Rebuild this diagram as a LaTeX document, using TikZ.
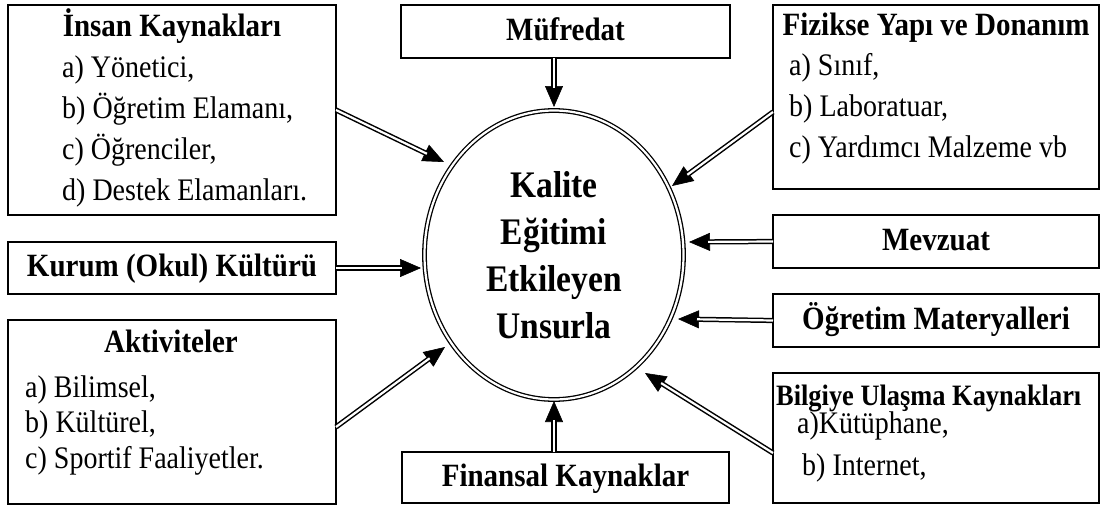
\documentclass[tikz,border=0pt]{standalone}
\usepackage{fontspec}
\usepackage{graphicx}
\setmainfont{Liberation Serif}
\usetikzlibrary{arrows.meta,shapes.geometric}
\newcommand\dblarrow[2]{%
  \draw[tipline] #1 -- #2;
  \draw[shaft] #1 -- #2;}
\newcommand\tall[1]{\scalebox{1}[1.12]{#1}}
\begin{document}
\begin{tikzpicture}[x=1pt,y=-1pt,
  box/.style={draw, line width=1.3pt, rectangle, inner sep=0pt, outer sep=0pt, anchor=north west},
  ttl/.style={font=\bfseries\fontsize{29}{29}\selectfont, inner sep=0pt},
  itm/.style={font=\fontsize{28}{28}\selectfont, inner sep=0pt, anchor=base west},
  single/.style={box, font=\bfseries\fontsize{29}{29}\selectfont, text height=22pt, text depth=5pt},
  tipline/.style={-{Triangle[length=21pt,width=18pt]}, line width=0.6pt},
  shaft/.style={draw=black, line width=1.5pt, double=white, double distance=2.2pt, shorten >=19pt}]
\useasboundingbox[fill=white] (0,0) rectangle (1101,506);

% central ellipse
\node[ellipse, draw, line width=1.3pt, double=white, double distance=2.2pt,
      minimum width=259pt, minimum height=289pt, inner sep=0pt, align=center,
      font=\bfseries\fontsize{33.5}{47}\selectfont] (c) at (554,255)
      {\tall{Kalite}\\\tall{Eğitimi}\\\tall{Etkileyen}\\\tall{Unsurla}};

% boxes
\node[box, minimum width=328pt, minimum height=210pt] (insan) at (8,5) {};
\node[ttl, anchor=base] (insanT) at (172,36) {\tall{İnsan Kaynakları}};
\node[itm] (insanA) at (62,77) {\tall{a) Yönetici,}};
\node[itm] (insanB) at (62,118) {\tall{b) Öğretim Elamanı,}};
\node[itm] (insanC) at (62,159) {\tall{c) Öğrenciler,}};
\node[itm] (insanD) at (62,200) {\tall{d) Destek Elamanları.}};

\node[single, minimum width=329pt, minimum height=53pt] (muf) at (401,5) {\tall{Müfredat}};

\node[box, minimum width=326pt, minimum height=184pt] (fiz) at (773,5) {};
\node[ttl, anchor=base] (fizT) at (936,35) {\tall{Fizikse Yapı ve Donanım}};
\node[itm] (fizA) at (789,75) {\tall{a) Sınıf,}};
\node[itm] (fizB) at (789,116) {\tall{b) Laboratuar,}};
\node[itm] (fizC) at (789,157) {\tall{c) Yardımcı Malzeme vb}};

\node[single, minimum width=328pt, minimum height=52pt] (kurum) at (8,242) {\tall{Kurum (Okul) Kültürü}};

\node[single, minimum width=326pt, minimum height=53pt] (mev) at (773,215) {\tall{Mevzuat}};
\node[single, minimum width=326pt, minimum height=53pt] (ogr) at (773,294) {\tall{Öğretim Materyalleri}};

\node[box, minimum width=328pt, minimum height=184pt] (akt) at (8,320) {};
\node[ttl, anchor=base] (aktT) at (171,352) {\tall{Aktiviteler}};
\node[itm] (aktA) at (25,397) {\tall{a) Bilimsel,}};
\node[itm] (aktB) at (25,432) {\tall{b) Kültürel,}};
\node[itm] (aktC) at (25,468) {\tall{c) Sportif Faaliyetler.}};

\node[box, minimum width=326pt, minimum height=130pt] (bil) at (773,373) {};
\node[ttl, anchor=base west, font=\bfseries\fontsize{26.4}{26}\selectfont] (bilT) at (776,405) {\tall{Bilgiye Ulaşma Kaynakları}};
\node[itm] (bilA) at (797,433) {\tall{a)Kütüphane,}};
\node[itm] (bilB) at (802,475) {\tall{b) Internet,}};

\node[single, minimum width=327pt, minimum height=51pt] (fin) at (402,452) {\tall{Finansal Kaynaklar}};

% arrow ends
\coordinate (t1) at (444,162);
\coordinate (t2) at (554,107);
\coordinate (t3) at (672,186);
\coordinate (t4) at (421,268);
\coordinate (t5) at (689,242);
\coordinate (t6) at (678,319);
\coordinate (t7) at (645,373);
\coordinate (t8) at (554,401);
\coordinate (t9) at (445,347);

\dblarrow{(insan.east)}{(t1)}
\dblarrow{(muf.south -| c)}{(t2)}
\dblarrow{(fiz.west |- 0,112)}{(t3)}
\dblarrow{(kurum.east)}{(t4)}
\dblarrow{(mev.west)}{(t5)}
\dblarrow{(ogr.west)}{(t6)}
\dblarrow{(bil.west |- 0,453)}{(t7)}
\dblarrow{(fin.north -| c)}{(t8)}
\dblarrow{(akt.east |- 0,427)}{(t9)}
\end{tikzpicture}
\end{document}
